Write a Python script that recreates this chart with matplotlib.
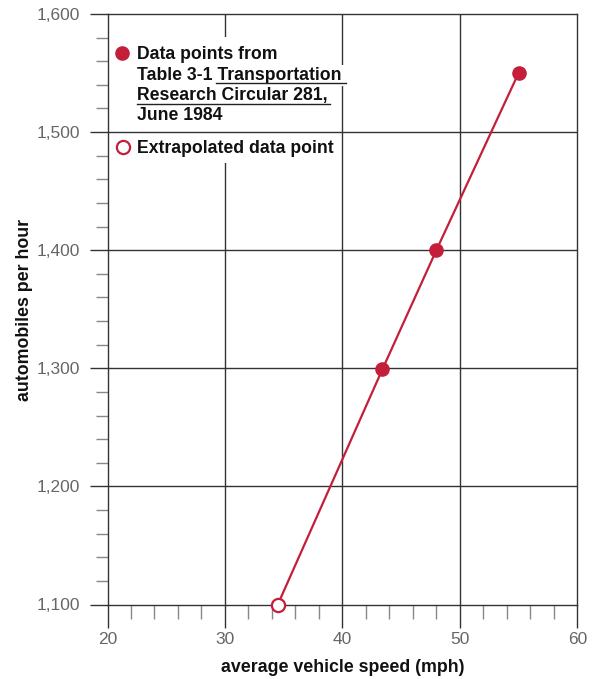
import matplotlib
matplotlib.use("Agg")
import matplotlib.pyplot as plt
from matplotlib.patches import Rectangle
from matplotlib.lines import Line2D
from matplotlib.ticker import MultipleLocator

plt.rcParams['font.family'] = ['Liberation Sans', 'DejaVu Sans']

# Measured capacity values (Table 3-1) and the extrapolated point
speed_measured = [43.4, 48.0, 55.0]
autos_measured = [1299, 1400, 1550]
speed_extrapolated = [34.5]
autos_extrapolated = [1100]

x_ticks = [20, 30, 40, 50, 60]
x_tick_labels = ['20', '30', '40', '50', '60']
y_ticks = [1100, 1200, 1300, 1400, 1500, 1600]
y_tick_labels = ['1,100', '1,200', '1,300', '1,400', '1,500', '1,600']

x_label = 'average vehicle speed (mph)'
y_label = 'automobiles per hour'

legend_measured = ['Data points from', 'Table 3-1 Transportation',
                   'Research Circular 281,', 'June 1984']
underlined_title = 'Transportation'
legend_extrapolated = 'Extrapolated data point'

RED = '#C41E3A'
DARK = '#333333'
GRAY = '#666666'

W, H = 598, 679
fig = plt.figure(figsize=(W / 100, H / 100), dpi=100)


def fx(px):
    return px / W


def fy(py):
    return 1 - py / H


ax = fig.add_axes([fx(107.5), fy(604.5), (577.3 - 107.5) / W, (604.5 - 14) / H])
ax.set_xlim(x_ticks[0], x_ticks[-1])
ax.set_ylim(y_ticks[0], y_ticks[-1])

for side in ax.spines.values():
    side.set_color(DARK)
    side.set_linewidth(1.0)

# Ticks
ax.set_xticks(x_ticks)
ax.set_xticklabels(x_tick_labels)
ax.set_yticks(y_ticks)
ax.set_yticklabels(y_tick_labels)
ax.xaxis.set_minor_locator(MultipleLocator(2))
ax.yaxis.set_minor_locator(MultipleLocator(20))
ax.tick_params(axis='x', which='major', direction='out', length=16.5, width=1.0,
               color=DARK, pad=3, labelsize=12.5, labelcolor=GRAY)
ax.tick_params(axis='x', which='minor', direction='out', length=10, width=1.0,
               color='#888888')
ax.tick_params(axis='y', which='major', direction='out', length=13.2, width=1.0,
               color=DARK, pad=6.5, labelsize=12.5, labelcolor=GRAY)
ax.tick_params(axis='y', which='minor', direction='out', length=8.4, width=1.0,
               color='#888888')

# Grid: vertical lines sit beneath the legend block, horizontal ones above it
for v in x_ticks[1:-1]:
    ax.axvline(v, color=DARK, lw=1.0, zorder=1)
for h in y_ticks[1:-1]:
    ax.axhline(h, color=DARK, lw=1.0, zorder=3)

ax.add_patch(Rectangle((fx(112), fy(163)), fx(336) - fx(112), fy(37) - fy(163),
                       transform=fig.transFigure, facecolor='white',
                       edgecolor='none', zorder=2))

# Data line and markers
line_x = speed_extrapolated + speed_measured
line_y = autos_extrapolated + autos_measured
ax.plot(line_x, line_y, color=RED, lw=1.6, zorder=5, clip_on=False)
ax.plot(speed_measured, autos_measured, 'o', color=RED, ms=9.5, zorder=6,
        clip_on=False)
ax.plot(speed_extrapolated, autos_extrapolated, 'o', mfc='white', mec=RED,
        mew=1.6, ms=9.5, zorder=6, clip_on=False)

# Axis labels
ax.set_xlabel(x_label, fontsize=12.8, fontweight='bold', color='#111111')
ax.xaxis.set_label_coords(fx(342.4), fy(672.5), transform=fig.transFigure)
ax.xaxis.label.set_verticalalignment('baseline')
ax.set_ylabel(y_label, fontsize=12.8, fontweight='bold', color='#111111')
ax.yaxis.set_label_coords(fx(25), fy(309.5), transform=fig.transFigure)
ax.yaxis.label.set_verticalalignment('center')
ax.yaxis.label.set_horizontalalignment('center')

# Legend block
text_kw = dict(transform=fig.transFigure, fontsize=12.7, fontweight='bold',
               color='#111111', va='baseline', ha='left', zorder=7,
               bbox=dict(boxstyle='square,pad=0.12', fc='white', ec='none'))
baselines = [59.3, 80.0, 100.3, 119.8]
texts = [ax.text(fx(137), fy(b), s, **text_kw)
         for s, b in zip(legend_measured, baselines)]
ax.plot([fx(122)], [fy(53)], 'o', color=RED, ms=9.5, transform=fig.transFigure,
        clip_on=False, zorder=8)
ax.text(fx(137), fy(153.3), legend_extrapolated, **text_kw)
ax.plot([fx(122.5)], [fy(147)], 'o', mfc='white', mec=RED, mew=1.6, ms=9.5,
        transform=fig.transFigure, clip_on=False, zorder=8)

# Underline the publication title
fig.canvas.draw()
renderer = fig.canvas.get_renderer()
probe = ax.text(0, 0, underlined_title, fontsize=12.7, fontweight='bold')
title_w = probe.get_window_extent(renderer).width
probe.remove()
ext2 = texts[1].get_window_extent(renderer)
ext3 = texts[2].get_window_extent(renderer)
inv = fig.transFigure.inverted()
segments = [
    (ext2.x1 - title_w - 1, ext2.x1 + 4, H - 83.0),
    (ext3.x0, ext3.x1 + 2, H - 103.8),
]
for x0, x1, yd in segments:
    (a, b) = inv.transform((x0, yd))
    (c, d) = inv.transform((x1, yd))
    ax.add_line(Line2D([a, c], [b, d], transform=fig.transFigure, color='#222222',
                       lw=1.0, zorder=8, clip_on=False))

fig.savefig('out.png', dpi=100)
